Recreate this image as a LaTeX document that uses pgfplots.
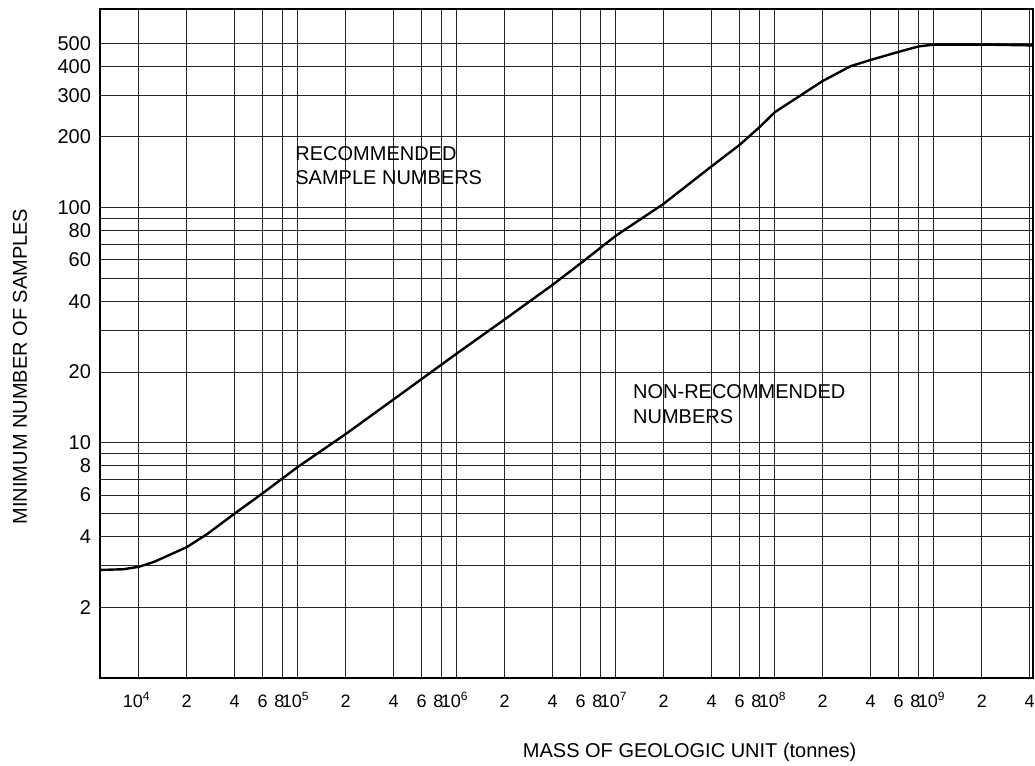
\documentclass[border=0pt]{standalone}
\usepackage{fontspec}
\setmainfont{Liberation Sans}
\usepackage{pgfplots}
\pgfplotsset{compat=1.18}
\newcommand\E[1]{\makebox[0pt][r]{10\kern-2pt}\makebox[0pt][l]{\kern2pt\textsuperscript{#1}}}
\newcommand\Ei{\makebox[0pt]{8\kern3pt}}
\begin{document}
\fontsize{10}{12}\selectfont
\begin{tikzpicture}
\begin{axis}[
  scale only axis, width=466.5pt, height=334.5pt,
  xmode=log, ymode=log,
  xmin=5700, xmax=4.2e9, ymin=1, ymax=700,
  xtick={1e4,2e4,4e4,6e4,8e4,1e5,2e5,4e5,6e5,8e5,1e6,2e6,4e6,6e6,8e6,1e7,2e7,4e7,6e7,8e7,1e8,2e8,4e8,6e8,8e8,1e9,2e9,4e9},
  xticklabels={\E{4},2,4,6,\Ei,\E{5},2,4,6,\Ei,\E{6},2,4,6,\Ei,\E{7},2,4,6,\Ei,\E{8},2,4,6,\Ei,\E{9},2,4},
  ytick={2,3,4,5,6,7,8,9,10,20,30,40,50,60,70,80,90,100,200,300,400,500},
  yticklabels={2,,4,,6,,8,,10,20,,40,,60,,80,,100,200,300,400,500},
  xminorticks=false, yminorticks=false,
  grid=major,
  major grid style={black!85, line width=0.5pt},
  major tick length=0pt,
  axis line style={black, line width=0.6pt},
  yticklabel style={font=\fontsize{10}{12}\selectfont, xshift=-1pt},
  xticklabel style={font=\fontsize{9}{11}\selectfont, anchor=base, yshift=-15pt},
  clip=false,
]
\addplot[black, line width=1.2pt, line join=round] coordinates {
 (5700,2.88) (8000,2.9) (1e4,2.97) (1.25e4,3.12) (2e4,3.6) (2.7e4,4.1)
 (4e4,5.0) (6e4,6.1) (1e5,7.9) (2e5,10.9) (4e5,15.3) (1e6,24) (2e6,33.5)
 (4e6,47) (6e6,58) (1e7,76) (2e7,104) (4e7,150) (6e7,185) (8e7,220)
 (1e8,255) (2e8,346) (3e8,400) (4e8,425) (6e8,460) (8e8,485) (1e9,494)
 (2e9,494) (4.2e9,490)
};
\node[anchor=base west, inner sep=0] at (rel axis cs:0.209,0.774) {RECOMMENDED};
\node[anchor=base west, inner sep=0] at (rel axis cs:0.209,0.737) {SAMPLE NUMBERS};
\node[anchor=base west, inner sep=0] at (rel axis cs:0.571,0.4185) {NON-RECOMMENDED};
\node[anchor=base west, inner sep=0] at (rel axis cs:0.571,0.380) {NUMBERS};
\node[rotate=90, inner sep=0] at ([xshift=-40pt]rel axis cs:0,0.4656) {MINIMUM NUMBER OF SAMPLES};
\node[anchor=base, inner sep=0] at ([yshift=-40pt]rel axis cs:0.632,0) {MASS OF GEOLOGIC UNIT (tonnes)};
\end{axis}
\pgfresetboundingbox
\path (current axis.south west) ++(-50pt,-44pt) coordinate (bl);
\path (current axis.north east) ++(1pt,4.5pt) coordinate (tr);
\useasboundingbox (bl) rectangle (tr);
\end{tikzpicture}
\end{document}
